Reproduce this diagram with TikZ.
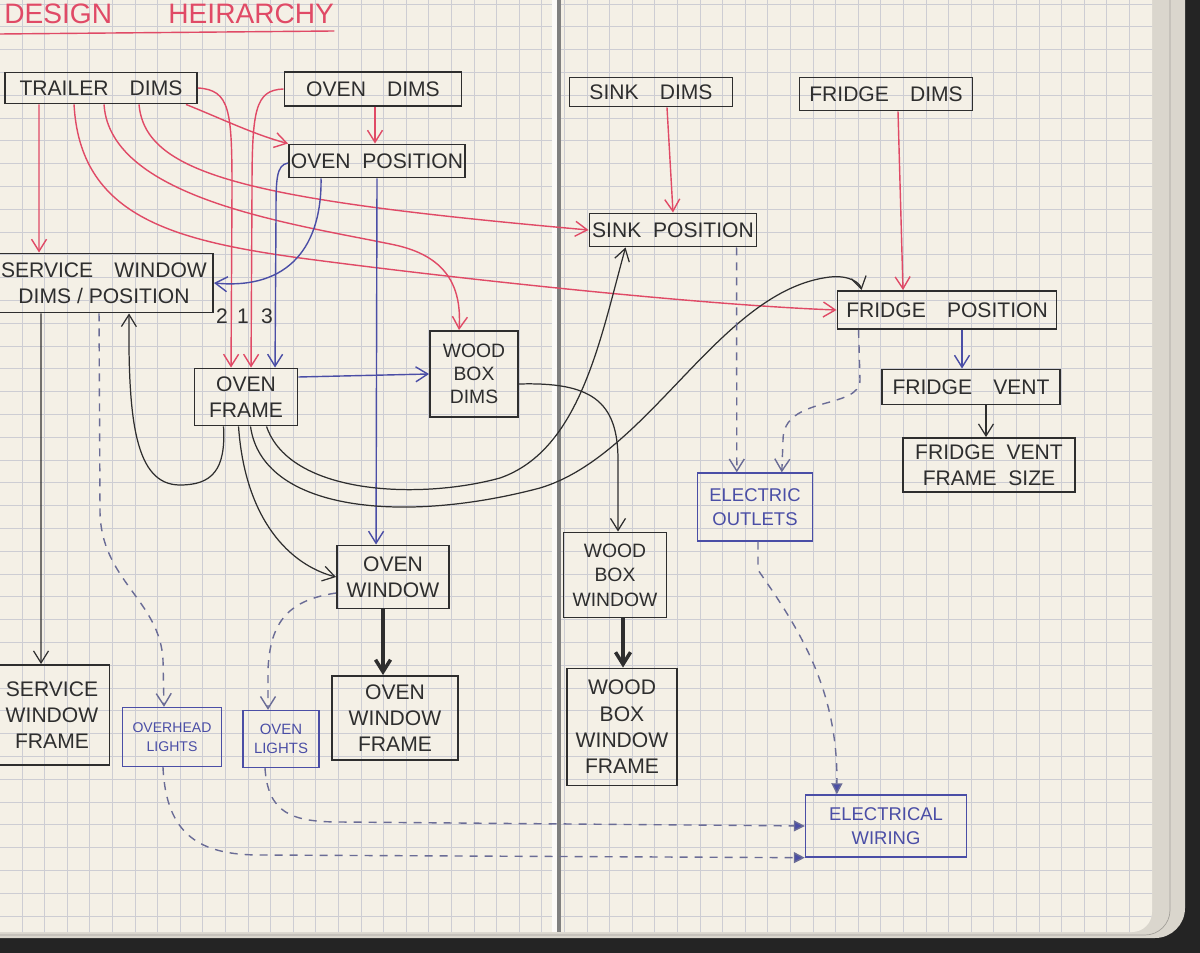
\documentclass[tikz,border=0pt]{standalone}
\usepackage{fontspec}
\setmainfont{Liberation Sans}
\usepackage{xcolor}
\usetikzlibrary{arrows.meta,calc}

\definecolor{penred}{HTML}{E04A66}
\definecolor{penblue}{HTML}{4A4EA6}
\definecolor{penblack}{HTML}{2E2E2E}
\definecolor{pengray}{HTML}{6A6C96}
\definecolor{paper}{HTML}{F4F0E6}
\definecolor{gridcol}{HTML}{CDCDD3}
\definecolor{desk}{HTML}{242424}
\definecolor{pagestack}{HTML}{DAD6CD}

\begin{document}
\begin{tikzpicture}[x=0.2mm, y=-0.2mm,
    >={Straight Barb[length=2.4mm,width=3mm]},
    every node/.style={font=\fontsize{12}{15}\selectfont, text=penblack},
    box/.style={rectangle, draw=penblack, line width=1.1pt, inner sep=1pt, align=center},
    bluebox/.style={box, draw=penblue, text=penblue, line width=0.8pt},
    redarr/.style={->, draw=penred, line width=0.8pt},
    bluearr/.style={->, draw=penblue, line width=0.8pt},
    blackarr/.style={->, draw=penblack, line width=0.7pt},
    thickarr/.style={->, draw=penblack, line width=2pt},
    wirearr/.style={->, draw=pengray, line width=0.8pt, dash pattern=on 1.6mm off 1.4mm},
    wiretip/.style={wirearr, -{Triangle[length=2.2mm,width=2.2mm,fill=penblue]}},
    gridln/.style={draw=gridcol, line width=0.5pt}
]

% Notebook
\useasboundingbox (0,0) rectangle (1200,953);
\fill[desk] (0,0) rectangle (1200,953);
\fill[pagestack, rounded corners=6mm] (-40,-40) rectangle (1185,938);
\draw[pagestack!75!black, rounded corners=5mm] (-40,-40) rectangle (1170,935);
\fill[paper, rounded corners=4mm] (-40,-40) rectangle (1152,932);
\begin{scope}
  \clip[rounded corners=4mm] (-40,-40) rectangle (1152,932);
  \foreach \k in {0,...,50} {
    \pgfmathsetmacro\gx{22+22.6*\k}
    \draw[gridln] (\gx,0) -- (\gx,953);
  }
  \foreach \k in {0,...,41} {
    \pgfmathsetmacro\gy{4+22.8*\k}
    \draw[gridln] (0,\gy) -- (1200,\gy);
  }
\end{scope}
\fill[white!70!paper] (552,0) rectangle (557,932);
\fill[black!50] (557,0) rectangle (561,932);

% Title
\node[anchor=west, inner sep=0pt, text=penred, font=\fontsize{16}{18}\selectfont] (title) at (4,14) {DESIGN\quad\quad HEIRARCHY};
\draw[penred, line width=0.8pt] (0,34) -- (title.south east |- 0,31);

% Dims
\node[box, minimum width=38.4mm, minimum height=6.2mm] (trailer) at (101,88) {TRAILER\quad DIMS};
\node[box, minimum width=35.4mm, minimum height=6.8mm] (ovendims) at (373,89) {OVEN\quad DIMS};
\node[box, minimum width=32.6mm, minimum height=5.8mm] (sinkdims) at (651,92) {SINK\quad DIMS};
\node[box, minimum width=34.6mm, minimum height=6.6mm] (fridgedims) at (886,94) {FRIDGE\quad DIMS};

% Positions
\node[box, minimum width=35.2mm, minimum height=6.6mm] (ovenpos) at (377,161) {OVEN\ \ POSITION};
\node[box, minimum width=33.4mm, minimum height=6.6mm] (sinkpos) at (673,230) {SINK\ \ POSITION};
\node[box, minimum width=43.6mm, minimum height=11.8mm] (swin) at (104,283) {SERVICE\quad WINDOW\\DIMS / POSITION};
\node[box, minimum width=43.8mm, minimum height=7.6mm] (fridgepos) at (947,310) {FRIDGE\quad POSITION};

% Parts
\node[box, minimum width=35.6mm, minimum height=7mm] (fridgevent) at (971,387) {FRIDGE\quad VENT};
\node[box, minimum width=34.4mm, minimum height=10.8mm] (fvframe) at (989,465) {FRIDGE\ \ VENT\\FRAME\ \ SIZE};
\node[box, minimum width=20.6mm, minimum height=11.4mm] (ovenframe) at (246,397) {OVEN\\FRAME};
\node[box, minimum width=17.6mm, minimum height=17.2mm, font=\fontsize{11}{13}\selectfont] (woodbox) at (474,374) {WOOD\\BOX\\DIMS};
\node[box, minimum width=22.4mm, minimum height=12.6mm] (ovenwin) at (393,577) {OVEN\\WINDOW};
\node[box, minimum width=20.6mm, minimum height=17mm, font=\fontsize{11}{14}\selectfont] (wbwin) at (615,575) {WOOD\\BOX\\WINDOW};
\node[box, minimum width=23mm, minimum height=20mm] (swframe) at (52,715) {SERVICE\\WINDOW\\FRAME};
\node[box, minimum width=25.2mm, minimum height=16.8mm] (owframe) at (395,718) {OVEN\\WINDOW\\FRAME};
\node[box, minimum width=22mm, minimum height=23.4mm] (wbwframe) at (622,727) {WOOD\\BOX\\WINDOW\\FRAME};

% Electrics
\node[bluebox, minimum width=23mm, minimum height=13.6mm, font=\fontsize{10.5}{14}\selectfont] (outlets) at (755,507) {ELECTRIC\\OUTLETS};
\node[bluebox, minimum width=19.8mm, minimum height=11.8mm, font=\fontsize{8}{11}\selectfont] (overhead) at (172,737) {OVERHEAD\\LIGHTS};
\node[bluebox, minimum width=15.2mm, minimum height=11.4mm, font=\fontsize{8.5}{11}\selectfont] (ovenlights) at (281,739) {OVEN\\LIGHTS};
\node[bluebox, minimum width=32.2mm, minimum height=12.4mm, font=\fontsize{10.5}{14}\selectfont] (wiring) at (886,826) {ELECTRICAL\\WIRING};

% Order of the frame inputs
\node[font=\fontsize{12}{14}\selectfont] (lbltwo) at (222,316) {2};
\node[font=\fontsize{12}{14}\selectfont] (lblone) at (243,316) {1};
\node[font=\fontsize{12}{14}\selectfont] (lblthree) at (267,316) {3};

% Red arrows
\draw[redarr] ($(trailer.south west)+(35,0)$) -- ($(swin.north west)+(45,0)$);
\draw[redarr] (trailer.east) .. controls (230,90) and (232,110) .. (232,190) -- ($(ovenframe.north west)+(37.5,0)$);
\draw[redarr] (ovendims.west) .. controls (255,90) and (252,110) .. (252,190) -- ($(ovenframe.north west)+(57.5,0)$);
\draw[redarr] ($(trailer.south east)+(-12,0)$) .. controls (220,118) and (255,135) .. (ovenpos.north west);
\draw[redarr] ($(ovendims.south)+(2,0)$) -- ($(ovenpos.north)+(-2,0)$);
\draw[redarr] ($(trailer.south west)+(135,0)$) .. controls (145,175) and (250,200) .. (sinkpos.west);
\draw[redarr] ($(trailer.south west)+(100,0)$) .. controls (110,200) and (300,225) .. (395,245) .. controls (445,256) and (462,285) .. ($(woodbox.north west)+(30,0)$);
\draw[redarr] ($(trailer.south west)+(70,0)$) .. controls (80,215) and (170,240) .. (300,258) .. controls (450,278) and (700,305) .. (fridgepos.west);
\draw[redarr] ($(sinkdims.south)+(16,0)$) -- (sinkpos.north);
\draw[redarr] ($(fridgedims.south)+(12,0)$) -- ($(fridgepos.north)+(-44,0)$);

% Blue arrows
\draw[bluearr] ($(ovenpos.south west)+(33,0)$) .. controls (322,245) and (290,290) .. (swin.east);
\draw[bluearr] ($(ovenpos.west)+(0,2)$) .. controls (276,165) and (276,180) .. (276,215) -- ($(ovenframe.north west)+(81.5,0)$);
\draw[bluearr] (ovenpos.south) -- ($(ovenwin.north west)+(40,0)$);
\draw[bluearr] ($(ovenframe.east)+(0,-20)$) -- (woodbox.west);
\draw[bluearr] ($(fridgepos.south)+(15,0)$) -- ($(fridgevent.north)+(-9,0)$);

% Black arrows
\draw[blackarr] ($(swin.south west)+(47,0)$) -- ($(swframe.north west)+(47.5,0)$);
\draw[blackarr] ($(fridgevent.south)+(15,0)$) -- ($(fvframe.north)+(-3,0)$);
\draw[thickarr] ($(ovenwin.south)+(-10,0)$) -- ($(owframe.north)+(-12,0)$);
\draw[thickarr] ($(wbwin.south)+(8,0)$) -- ($(wbwframe.north)+(1,0)$);
\draw[blackarr] ($(ovenframe.south west)+(30,0)$) .. controls (226,470) and (212,485) .. (180,485) .. controls (135,485) and (128,420) .. ($(swin.south west)+(135,0)$);
\draw[blackarr] ($(ovenframe.south west)+(45,0)$) .. controls (245,520) and (290,565) .. (ovenwin.west);
\draw[blackarr] ($(ovenframe.south west)+(57,0)$) .. controls (262,510) and (400,525) .. (540,488) .. controls (650,455) and (720,290) .. (830,277) .. controls (850,275) and (860,283) .. ($(fridgepos.north west)+(25,0)$);
\draw[blackarr] ($(ovenframe.south west)+(73,0)$) .. controls (290,495) and (420,500) .. (500,478) .. controls (580,450) and (600,340) .. ($(sinkpos.south west)+(37,0)$);
\draw[blackarr] ($(woodbox.east)+(0,10)$) .. controls (590,382) and (618,400) .. (618,460) -- ($(wbwin.north)+(3,0)$);

% Dashed electrics
\draw[wirearr] ($(swin.south west)+(105,0)$) -- (100,510) .. controls (100,580) and (160,600) .. (163,660) -- ($(overhead.north)+(-8,0)$);
\draw[wirearr] ($(ovenwin.west)+(0,16)$) .. controls (290,600) and (270,620) .. (268,670) -- ($(ovenlights.north)+(-13,0)$);
\draw[wirearr] ($(sinkpos.south west)+(148,0)$) -- ($(outlets.north west)+(40,0)$);
\draw[wirearr] ($(fridgepos.south west)+(22,0)$) -- (860,380) .. controls (860,410) and (783,395) .. (783,440) -- ($(outlets.north west)+(85,0)$);
\draw[wiretip] ($(outlets.south)+(3,0)$) -- (758,570) .. controls (800,630) and (838,690) .. ($(wiring.north west)+(32,0)$);
\draw[wiretip] ($(ovenlights.south)+(-16,0)$) .. controls (268,812) and (290,822) .. (340,822) -- (wiring.west);
\draw[wiretip] ($(overhead.south)+(-9,0)$) .. controls (166,835) and (200,855) .. (260,855) -- (wiring.south west);

\end{tikzpicture}
\end{document}
